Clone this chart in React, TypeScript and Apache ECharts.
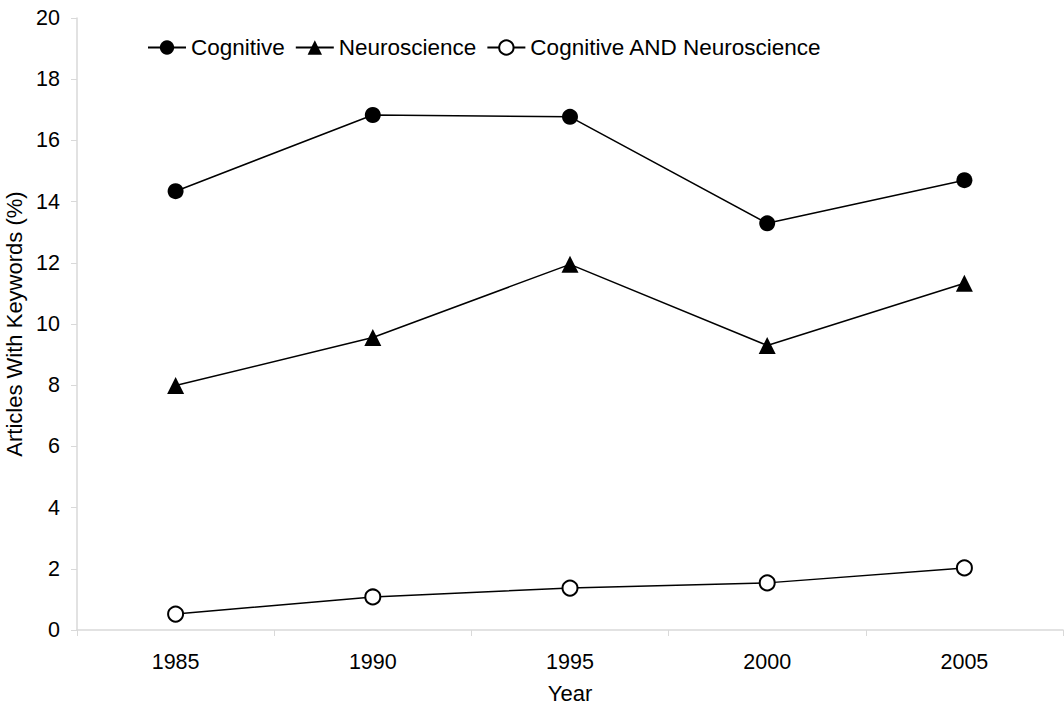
import React, { useEffect, useRef } from "react";
import * as echarts from "echarts";

const years = ["1985", "1990", "1995", "2000", "2005"];
const cognitive = [14.34, 16.83, 16.77, 13.29, 14.7];
const neuroscience = [7.99, 9.56, 11.95, 9.3, 11.33];
const cogAndNeuro = [0.52, 1.08, 1.37, 1.54, 2.03];
const yTicks = [0, 2, 4, 6, 8, 10, 12, 14, 16, 18, 20];

const FONT = "Liberation Sans, Arial, sans-serif";

export default function App() {
  const ref = useRef<HTMLDivElement>(null);
  useEffect(() => {
    if (!ref.current) return;
    const chart = echarts.init(ref.current, undefined, { renderer: "svg" });
    const lineStyle = { color: "#000", width: 1.5 };
    chart.setOption({
      animation: false,
      backgroundColor: "#fff",
      textStyle: { fontFamily: FONT },
      grid: {
        left: 77,
        right: 1,
        top: 18,
        bottom: 76,
        containLabel: false,
        outerBoundsMode: "none",
      },
      legend: {
        left: 142,
        top: 31,
        itemWidth: 38,
        itemHeight: 18,
        itemGap: 10,
        textStyle: { fontSize: 22.5, color: "#000", fontFamily: FONT },
        data: ["Cognitive", "Neuroscience", "Cognitive AND Neuroscience"],
      },
      xAxis: {
        type: "category",
        data: years,
        boundaryGap: true,
        name: "Year",
        nameLocation: "middle",
        nameGap: 52,
        nameTextStyle: { fontSize: 22, color: "#000", fontFamily: FONT },
        axisLine: { lineStyle: { color: "#d9d9d9", width: 1.5 } },
        axisTick: { show: true, length: 6, lineStyle: { color: "#d9d9d9" } },
        axisLabel: { fontSize: 21.5, color: "#000", margin: 21, fontFamily: FONT },
        splitLine: { show: false },
      },
      yAxis: {
        type: "value",
        min: 0,
        max: 20,
        interval: 2,
        name: "Articles With Keywords (%)",
        nameLocation: "middle",
        nameGap: 51,
        nameTextStyle: { fontSize: 22, color: "#000", fontFamily: FONT },
        axisLine: { show: true, lineStyle: { color: "#d9d9d9", width: 1.5 } },
        axisTick: { show: true, length: 6, lineStyle: { color: "#d9d9d9" } },
        axisLabel: {
          fontSize: 21.5,
          color: "#000",
          margin: 17,
          fontFamily: FONT,
          formatter: (v: number) => (yTicks.includes(v) ? String(v) : ""),
        },
        splitLine: { show: false },
      },
      series: [
        {
          name: "Cognitive",
          type: "line",
          data: cognitive,
          symbol: "circle",
          symbolSize: 16,
          itemStyle: { color: "#000" },
          lineStyle,
        },
        {
          name: "Neuroscience",
          type: "line",
          data: neuroscience,
          symbol: "triangle",
          symbolSize: 17,
          itemStyle: { color: "#000" },
          lineStyle,
        },
        {
          name: "Cognitive AND Neuroscience",
          type: "line",
          data: cogAndNeuro,
          symbol: "emptyCircle",
          symbolSize: 15,
          itemStyle: { color: "#000", borderColor: "#000", borderWidth: 1.8 },
          lineStyle,
        },
      ],
    });
    return () => chart.dispose();
  }, []);
  return (
    <div
      ref={ref}
      style={{ position: "fixed", left: 0, top: 0, width: 1064, height: 706 }}
    />
  );
}
